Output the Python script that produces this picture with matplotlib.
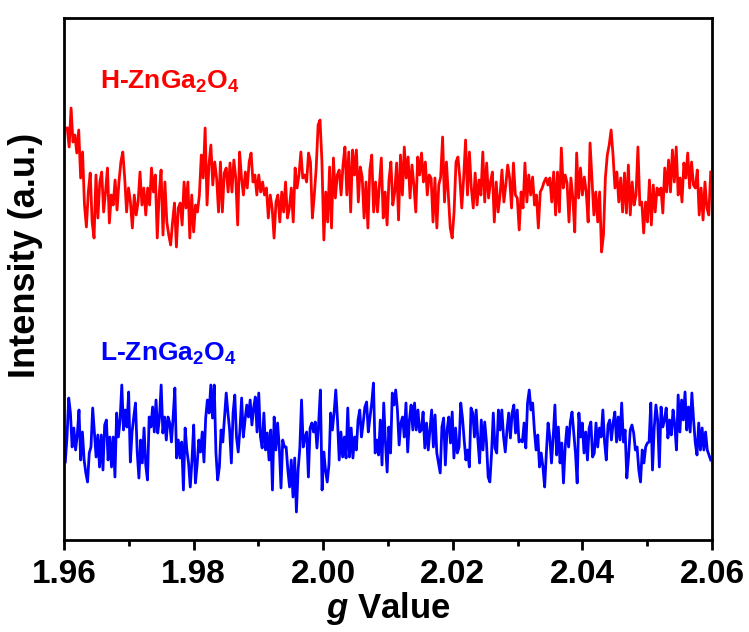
#=====================
# Imports
#=====================
import matplotlib
matplotlib.use('Agg')
import matplotlib.pyplot as plt
import numpy as np
from matplotlib.ticker import MultipleLocator

#=====================
# Data (intensity in a.u.)
#=====================
g_start, g_end = 1.9605, 2.0598

red_intensity = [
    412, 393, 432, 398, 405, 387, 410, 362, 388, 335, 313, 348, 367, 318, 302, 365, 322, 358, 368, 328,
    348, 372, 317, 345, 335, 360, 330, 358, 378, 388, 362, 328, 352, 338, 312, 345, 325, 338, 368, 335,
    352, 325, 352, 335, 372, 348, 365, 302, 345, 370, 305, 358, 318, 305, 295, 318, 337, 293, 332, 337,
    315, 358, 332, 358, 302, 345, 308,
    335, 328, 345, 385, 362, 412, 335, 375, 395, 355, 378, 362, 328, 378, 328, 367, 372, 348, 377, 348,
    380, 362, 315, 388, 362, 345, 368, 352, 378, 387, 358, 365, 345, 365, 348, 358, 345, 352, 322, 345,
    332, 302, 338, 345, 318, 348, 328, 358, 322, 332, 352, 318, 372, 352, 365, 388, 362, 365, 358, 387,
    378, 322, 345, 372, 415, 420, 378, 300,
    348, 318, 373, 312, 382, 342, 365, 370, 345, 375, 393, 345, 388, 328, 390, 365, 390, 338, 373, 363,
    322, 358, 312, 370, 385, 328, 358, 328, 355, 382, 322, 348, 315, 360, 378, 335, 348, 377, 320, 385,
    345, 393, 362, 383, 342, 375, 355, 328, 383, 365, 387, 358, 378, 345, 365, 362, 318, 362, 312, 355,
    363, 403, 338, 378, 345, 312, 302, 328, 378,
    383, 362, 332, 362, 400, 345, 388, 352, 332, 367, 335, 360, 345, 388, 338, 377, 342, 358, 368, 318,
    358, 328, 345, 370, 338, 355, 375, 362, 332, 377, 345, 342, 310, 348, 332, 377, 338, 365, 345, 363,
    335, 345, 312, 348, 352, 358, 362, 355, 362, 338, 368, 325, 368, 328, 392, 352, 365, 357, 318, 362,
    342, 308, 387, 342, 372, 345, 363, 348, 318, 397,
    362, 325, 348, 318, 348, 288, 305, 362, 385, 395, 410, 385, 352, 368, 338, 362, 328, 367, 327, 375,
    325, 358, 335, 345, 393, 335, 338, 307, 338, 318, 360, 315, 355, 328, 352, 345, 352, 327, 372, 348,
    380, 348, 390, 358, 393, 345, 362, 338, 377, 362, 387, 352, 378, 355, 352, 370, 325, 352, 320, 358,
    332, 325, 368,
]

blue_intensity = [
    78, 103, 142, 127, 93, 112, 90, 105, 130, 80, 108, 80, 67, 58, 87, 93, 132, 107, 83, 105,
    73, 105, 70, 115, 120, 80, 103, 73, 103, 63, 127, 103, 120, 155, 110, 130, 113, 148, 78, 108,
    123, 137, 88, 62, 100, 77, 112, 75, 60, 123, 113, 133, 108, 140, 107, 122, 155, 107, 123, 100,
    123, 117, 98, 123, 152, 82, 100, 82, 98, 50, 112, 90, 77, 53, 80, 115, 57,
    75, 100, 88, 108, 78, 122, 140, 127, 155, 122, 155, 87, 60, 73, 110, 98, 122, 147, 127, 110,
    77, 127, 145, 103, 88, 110, 142, 103, 120, 135, 123, 140, 115, 132, 143, 108, 147, 103, 92, 127,
    90, 107, 80, 110, 50, 123, 90, 117, 93, 52, 100, 93, 93, 70, 53, 80, 43, 82, 28, 70,
    92, 140, 93, 103, 108, 63, 112, 117, 108, 118, 92, 117, 150, 50,
    88, 70, 58, 75, 127, 110, 127, 150, 120, 80, 108, 83, 103, 82, 132, 83, 112, 82, 103, 90,
    120, 130, 103, 117, 133, 138, 108, 123, 137, 157, 87, 100, 85, 120, 75, 137, 98, 68, 113, 87,
    147, 135, 150, 130, 95, 117, 123, 103, 137, 88, 120, 135, 110, 137, 110, 130, 108, 110, 128, 92,
    117, 90, 110, 130, 93, 125, 87, 77, 67, 113, 122, 75, 110, 123, 97, 128, 82, 112, 87, 93,
    137, 122,
    100, 80, 90, 73, 132, 127, 103, 130, 100, 77, 120, 90, 118, 98, 63, 58, 87, 127, 92, 87,
    130, 110, 130, 103, 88, 110, 127, 102, 127, 135, 107, 130, 98, 100, 98, 117, 92, 137, 150, 130,
    137, 110, 90, 105, 73, 87, 73, 53, 87, 117, 103, 77, 103, 135, 85, 113, 77, 97, 57, 93,
    113, 93, 118, 128, 107, 87, 57, 127, 103, 117, 87, 108, 80, 112, 118, 83,
    87, 117, 93, 112, 103, 130, 98, 80, 115, 120, 100, 117, 128, 98, 123, 100, 137, 98, 110, 62,
    83, 110, 115, 107, 90, 93, 70, 58, 90, 77, 93, 97, 98, 137, 70, 112, 135, 120, 73, 133,
    113, 120, 132, 102, 120, 105, 130, 115, 90, 145, 108, 140, 120, 148, 110, 133, 108, 147, 120, 97,
    85, 117, 90, 112, 90, 108, 90, 85, 80,
]

g_red = np.linspace(g_start, g_end, len(red_intensity))
g_blue = np.linspace(1.9602, g_end, len(blue_intensity))

#=====================
# Style
#=====================
plt.rcParams['font.family'] = ['Liberation Sans', 'DejaVu Sans']
plt.rcParams['font.weight'] = 'bold'
plt.rcParams['mathtext.fontset'] = 'custom'
plt.rcParams['mathtext.rm'] = 'Liberation Sans:bold'
plt.rcParams['mathtext.bf'] = 'Liberation Sans:bold'
plt.rcParams['mathtext.it'] = 'Liberation Sans:bold:italic'
plt.rcParams['mathtext.default'] = 'rm'

#=====================
# Plot
#=====================
fig = plt.figure(figsize=(7.49, 6.32), dpi=100)
ax = fig.add_axes([64 / 749, 92 / 632, 648 / 749, 522 / 632])

ax.plot(g_red, red_intensity, color='#ff0000', lw=2)
ax.plot(g_blue, blue_intensity, color='#0000ff', lw=2)

ax.text(1.9655, 458, 'H-ZnGa$_2$O$_4$', color='#ff0000', fontsize=19,
        fontweight='bold', va='center', ha='left')
ax.text(1.9655, 186, 'L-ZnGa$_2$O$_4$', color='#0000ff', fontsize=19,
        fontweight='bold', va='center', ha='left')

ax.set_xlim(1.96, 2.06)
ax.set_ylim(0, 522)
ax.xaxis.set_major_locator(MultipleLocator(0.02))
ax.xaxis.set_minor_locator(MultipleLocator(0.01))
ax.set_xticks([1.96, 1.98, 2.00, 2.02, 2.04, 2.06])
ax.set_xticklabels(['1.96', '1.98', '2.00', '2.02', '2.04', '2.06'])
ax.set_yticks([])

ax.tick_params(axis='x', which='major', direction='out', length=7, width=2,
               labelsize=24, pad=7)
ax.tick_params(axis='x', which='minor', direction='out', length=4, width=2)
for s in ax.spines.values():
    s.set_linewidth(2)

ax.set_xlabel(r'$\mathit{g}$ Value', fontsize=25, fontweight='bold', labelpad=0)
ax.set_ylabel('Intensity (a.u.)', fontsize=26, fontweight='bold')
ax.yaxis.set_label_coords(-0.032, 0.545)

fig.savefig('out.png', dpi=100)
